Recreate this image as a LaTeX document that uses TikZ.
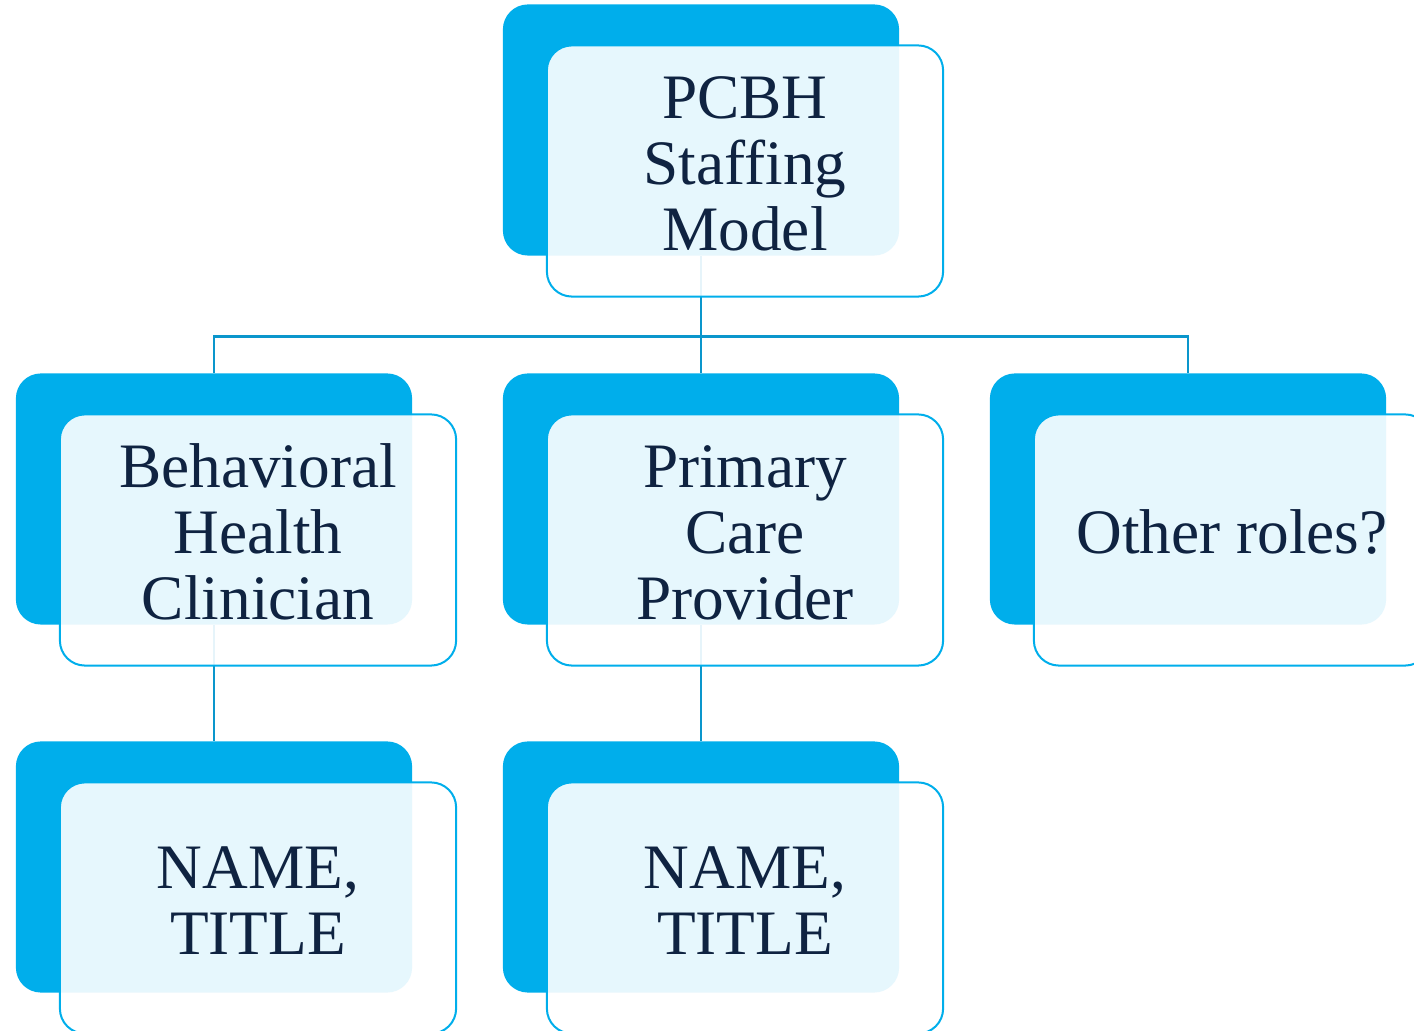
\documentclass[tikz,border=0pt]{standalone}
\usepackage{fontspec}
\setmainfont{Liberation Serif}
\definecolor{pcbhblue}{HTML}{00AEEB}
\definecolor{linkblue}{HTML}{0A96CC}
\definecolor{inkblue}{HTML}{0F2341}
% centred text block
\newcommand{\boxlines}[1]{\begin{tabular}{@{}c@{}}#1\end{tabular}}
\tikzset{
    backbox/.style={rectangle,rounded corners=0.25cm,fill=pcbhblue,
        minimum width=3.96cm,minimum height=2.51cm,inner sep=0pt},
    frontbox/.style={rectangle,rounded corners=0.25cm,draw=pcbhblue,line width=0.02cm,
        fill=white,fill opacity=0.9,text opacity=1,text=inkblue,
        minimum width=3.96cm,minimum height=2.51cm,inner sep=0pt,
        font=\fontsize{18}{18.8}\selectfont},
    link/.style={draw=linkblue,line width=0.025cm}
}
\begin{document}
\begin{tikzpicture}[x=0.01cm,y=-0.01cm]
        \useasboundingbox (0,0) rectangle (1414,1031);
        % back boxes
        \begin{scope}[every node/.style={backbox}]
            \node (TopB) at (701,130) {};
            \node (BHCB) at (214,499) {};
            \node (PCPB) at (701,499) {};
            \node (OtherB) at (1188,499) {};
            \node (BHCnameB) at (214,867) {};
            \node (PCPnameB) at (701,867) {};
        \end{scope}
        % connectors
        \draw[link] (TopB.south) -- ++(0,80) -| (BHCB.north);
        \draw[link] (TopB.south) -- ++(0,80) -| (OtherB.north);
        \draw[link] (TopB.south) -- (PCPB.north);
        \draw[link] (BHCB.south) -- (BHCnameB.north);
        \draw[link] (PCPB.south) -- (PCPnameB.north);
        % front boxes
        \begin{scope}[every node/.style={frontbox}]
            \node (Top) at (745,171) {\boxlines{PCBH\\Staffing\\Model}};
            \node (BHC) at (258,540) {\boxlines{Behavioral\\Health\\Clinician}};
            \node (PCP) at (745,540) {\boxlines{Primary\\Care\\Provider}};
            \node (Other) at (1232,540) {\boxlines{Other roles?}};
            \node (BHCname) at (258,908) {\boxlines{NAME,\\TITLE}};
            \node (PCPname) at (745,908) {\boxlines{NAME,\\TITLE}};
        \end{scope}
    \end{tikzpicture}
\end{document}
